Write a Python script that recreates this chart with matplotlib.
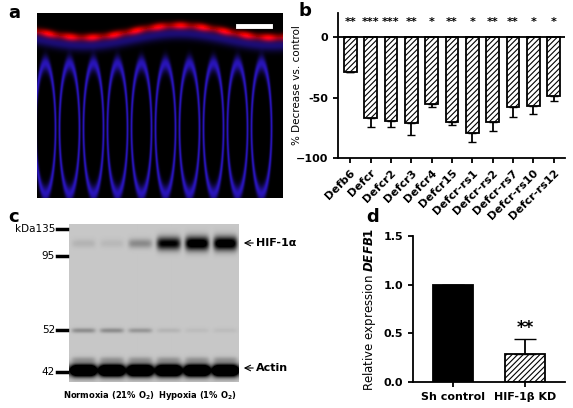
import numpy as np
from matplotlib import pyplot as plt

W, H = 573, 408

genes = ['Defb6', 'Defcr', 'Defcr2', 'Defcr3', 'Defcr4', 'Defcr15', 'Defcr-rs1',
         'Defcr-rs2', 'Defcr-rs7', 'Defcr-rs10', 'Defcr-rs12']
decrease = [-29, -67, -69, -71, -55, -70, -79, -70, -58, -57, -49]
decrease_err = [0, 7, 5, 10, 3, 3, 8, 8, 8, 7, 4]
stars = ['**', '***', '***', '**', '*', '**', '*', '**', '**', '*', '*']

groups = ['Sh control', 'HIF-1β KD']
expr = [1.0, 0.29]
expr_err = [0, 0.15]

kda_labels = ['kDa135', '95', '52', '42']
kda_y = [229, 256, 330, 372]      # pixel rows of marker ticks
hif_lanes = [0.08, 0.06, 0.25, 0.85, 1.0, 1.0]  # HIF-1a band intensity per lane

plt.rcParams['font.family'] = 'DejaVu Sans'
plt.rcParams['font.weight'] = 'bold'
plt.rcParams['hatch.linewidth'] = 0.8

fig = plt.figure(figsize=(W / 100, H / 100), dpi=100)


def box(x0, y0, x1, y1):
    return [x0 / W, 1 - y1 / H, (x1 - x0) / W, (y1 - y0) / H]


# ---- panel a: fluorescence micrograph (schematic) ----
axa = fig.add_axes(box(37, 13, 283, 198))
ny, nx = 185, 246
yy, xx = np.mgrid[0:ny, 0:nx]
img = np.zeros((ny, nx, 3))
top = 18 + 6 * np.sin(xx / 30.0)
blue = np.zeros((ny, nx))
for cx in np.arange(8, nx, 24):
    d = np.sqrt(((xx - cx) / 10.0) ** 2 + ((yy - 115) / 65.0) ** 2)
    blue += 0.8 * np.exp(-((d - 1) / 0.12) ** 2)
blue += 0.5 * np.exp(-((yy - top - 8) / 6.0) ** 2)
blue *= (yy > top)
red = np.exp(-((yy - top) / 4.0) ** 2) * (0.6 + 0.4 * np.sin(xx / 7.0) ** 2)
img[..., 0] = np.clip(red + 0.2 * blue, 0, 1)
img[..., 1] = np.clip(0.1 * blue, 0, 1)
img[..., 2] = np.clip(0.9 * blue, 0, 1)
axa.imshow(img, aspect='auto')
axa.plot([200, 232], [12, 12], color='white', lw=3.5)
axa.axis('off')
fig.text(8 / W, 1 - 18 / H, 'a', fontsize=13, fontweight='bold')

# ---- panel b ----
axb = fig.add_axes(box(338, 13, 565, 158))
x = np.arange(len(genes))
axb.bar(x, decrease, width=0.62, color='white', edgecolor='black', hatch='//////', lw=1.3)
axb.errorbar(x, decrease, yerr=[decrease_err, np.zeros(len(x))], fmt='none',
             ecolor='black', capsize=3, lw=1.3)
for xi, s in zip(x, stars):
    axb.text(xi, 8, s, ha='center', va='bottom', fontsize=8)
axb.axhline(0, color='black', lw=1.3)
axb.set_xlim(-0.6, len(genes) - 0.45)
axb.set_ylim(-100, 20)
axb.set_yticks([0, -50, -100])
axb.set_yticklabels(['0', '-50', '\u2212100'])
axb.set_xticks(x)
axb.set_xticklabels(genes, rotation=45, ha='right', rotation_mode='anchor', fontsize=7.5)
axb.tick_params(labelsize=8, width=1.3)
axb.spines[['top', 'right']].set_visible(False)
axb.spines[['left', 'bottom']].set_linewidth(1.3)
axb.set_ylabel('% Decrease vs. control', fontsize=7.5)
axb.yaxis.set_label_coords(-0.16, 0.5)
fig.text(298 / W, 1 - 16 / H, 'b', fontsize=13, fontweight='bold')

# ---- panel c: western blot (schematic) ----
axc = fig.add_axes(box(69, 224, 238, 382))
by, bx = 158, 169
yy, xx = np.mgrid[0:by, 0:bx]
dark = np.full((by, bx), 0.22)
lane_w = bx / 6
for i, a in enumerate(hif_lanes):
    cx = (i + 0.5) * lane_w
    lane = np.exp(-((xx - cx) / (lane_w * 0.42)) ** 6)
    dark += a * 0.95 * lane * np.exp(-((yy - 19) / (4 + 3 * a)) ** 2)
    dark += 0.2 * lane * np.exp(-((yy - 106) / 2.5) ** 2) * (1.2 - a)
    dark += 0.15 * lane * np.exp(-((yy - 135) / 3.0) ** 2)
    dark += 0.95 * lane * np.exp(-((yy - 146) / 6.0) ** 2)
dark += 0.7 * np.exp(-((yy - 146) / 6.0) ** 2)
dark = np.clip(dark, 0, 1)
axc.imshow(1 - dark, cmap='gray', vmin=0, vmax=1, aspect='auto')
axc.set_xticks([])
axc.set_yticks([])
for sp in axc.spines.values():
    sp.set_visible(False)
for lab, py in zip(kda_labels, kda_y):
    fig.lines.append(plt.Line2D([57 / W, 67 / W], [1 - py / H] * 2, color='black', lw=2.5,
                                transform=fig.transFigure))
    fig.text(55 / W, 1 - py / H, lab, ha='right', va='center', fontsize=7.5, fontweight='normal')
for lab, py in [('HIF-1α', 243), ('Actin', 368)]:
    fig.text(256 / W, 1 - py / H, lab, ha='left', va='center', fontsize=8)
    fig.add_artist(plt.Annotation('', xy=(241 / W, 1 - py / H), xytext=(256 / W, 1 - py / H),
                                  xycoords='figure fraction',
                                  arrowprops=dict(arrowstyle='->', lw=0.8)))
fig.lines.append(plt.Line2D([70 / W, 148 / W], [1 - 386 / H] * 2, color='gray', lw=0.8))
fig.lines.append(plt.Line2D([158 / W, 236 / W], [1 - 386 / H] * 2, color='gray', lw=0.8))
fig.text(109 / W, 1 - 396 / H, 'Normoxia (21% O$_2$)', ha='center', va='center', fontsize=6)
fig.text(197 / W, 1 - 396 / H, 'Hypoxia (1% O$_2$)', ha='center', va='center', fontsize=6)
fig.text(8 / W, 1 - 222 / H, 'c', fontsize=13, fontweight='bold')

# ---- panel d ----
axd = fig.add_axes(box(413, 236, 565, 382))
xd = np.arange(len(groups))
axd.bar(xd, expr, width=0.55, color=['black', 'white'], edgecolor='black',
        hatch=['', '//////'], lw=1.3)
axd.errorbar(xd, expr, yerr=[[0, 0], expr_err], fmt='none', ecolor='black', capsize=8, lw=1.3)
axd.text(1, expr[1] + expr_err[1] + 0.02, '**', ha='center', va='bottom', fontsize=12)
axd.set_xlim(-0.55, 1.55)
axd.set_ylim(0, 1.5)
axd.set_yticks([0, 0.5, 1.0, 1.5])
axd.set_xticks(xd)
axd.set_xticklabels(groups, fontsize=8)
axd.tick_params(labelsize=8, width=1.3)
axd.spines[['top', 'right']].set_visible(False)
axd.spines[['left', 'bottom']].set_linewidth(1.3)
axd.set_ylabel('Relative expression $\\boldsymbol{DEFB1}$', fontsize=8.5)
fig.text(366 / W, 1 - 222 / H, 'd', fontsize=13, fontweight='bold')

fig.savefig('out.png', dpi=100)
